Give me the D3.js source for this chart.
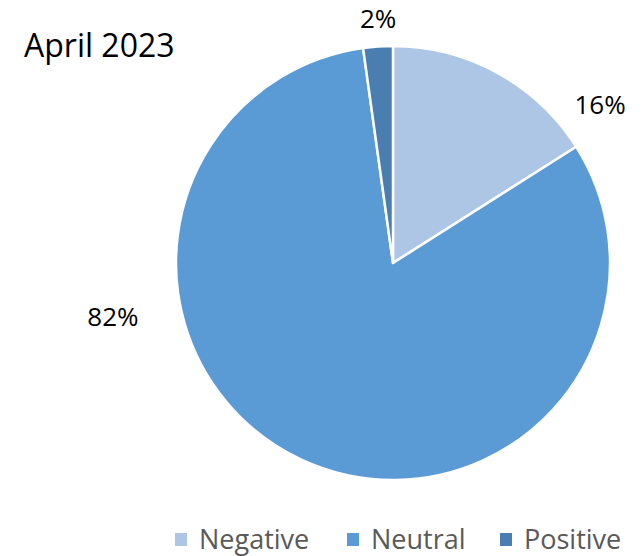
<!DOCTYPE html>
<html>
<head>
<meta charset="utf-8">
<script src="https://cdn.jsdelivr.net/npm/d3@7"></script>
<style>
  body { margin: 0; background: #fff; }
  svg { display: block; font-family: "Open Sans", "Noto Sans", sans-serif; }
</style>
</head>
<body>
<svg id="chart" width="643" height="556"></svg>
<script>
const categories = ['Negative', 'Neutral', 'Positive'];
const values = [16, 81.8, 2.2];
const colors = ['#adc6e6', '#5b9bd5', '#4a7eb1'];
const title = 'April 2023';

// label placement (angle in degrees from 12 o'clock, distance from centre)
const labelLayout = {
    Negative: { angle: 52.5, dist: 261 },
    Neutral: { angle: 259.3, dist: 285 },
    Positive: { angle: -3.5, dist: 245 }
};

const svg = d3.select('#chart');
const cx = 393, cy = 263, radius = 217;

const colorScale = d3.scaleOrdinal()
    .domain(categories)
    .range(colors);

const data = categories.map((c, i) => ({ name: c, value: values[i] }));

const pie = d3.pie()
    .sort(null)
    .value(d => d.value);

const arc = d3.arc()
    .innerRadius(0)
    .outerRadius(radius);

const chart = svg.append('g')
    .attr('transform', `translate(${cx},${cy})`);

chart.selectAll('.slice')
    .data(pie(data))
    .enter()
    .append('path')
    .attr('class', 'slice')
    .attr('d', arc)
    .attr('fill', d => colorScale(d.data.name))
    .attr('stroke', '#fff')
    .attr('stroke-width', 2.5)
    .attr('stroke-linejoin', 'round');

// data labels
const total = d3.sum(values);
chart.selectAll('.label')
    .data(data)
    .enter()
    .append('text')
    .attr('class', 'label')
    .attr('x', d => Math.sin(labelLayout[d.name].angle * Math.PI / 180) * labelLayout[d.name].dist)
    .attr('y', d => -Math.cos(labelLayout[d.name].angle * Math.PI / 180) * labelLayout[d.name].dist)
    .attr('text-anchor', 'middle')
    .attr('dominant-baseline', 'central')
    .attr('font-size', 26)
    .attr('fill', '#000')
    .text(d => Math.round(d.value / total * 100) + '%');

// title
svg.append('text')
    .attr('x', 24)
    .attr('y', 57)
    .attr('font-size', 32)
    .attr('fill', '#000')
    .text(title);

// legend
const legendX = [175, 347, 500];
const legend = svg.selectAll('.legend')
    .data(categories)
    .enter()
    .append('g')
    .attr('class', 'legend')
    .attr('transform', (d, i) => `translate(${legendX[i]},533)`);

legend.append('rect')
    .attr('width', 12)
    .attr('height', 13)
    .attr('fill', d => colorScale(d));

legend.append('text')
    .attr('x', 24)
    .attr('y', 16)
    .attr('font-size', 27)
    .attr('fill', '#595959')
    .text(d => d);
</script>
</body>
</html>
